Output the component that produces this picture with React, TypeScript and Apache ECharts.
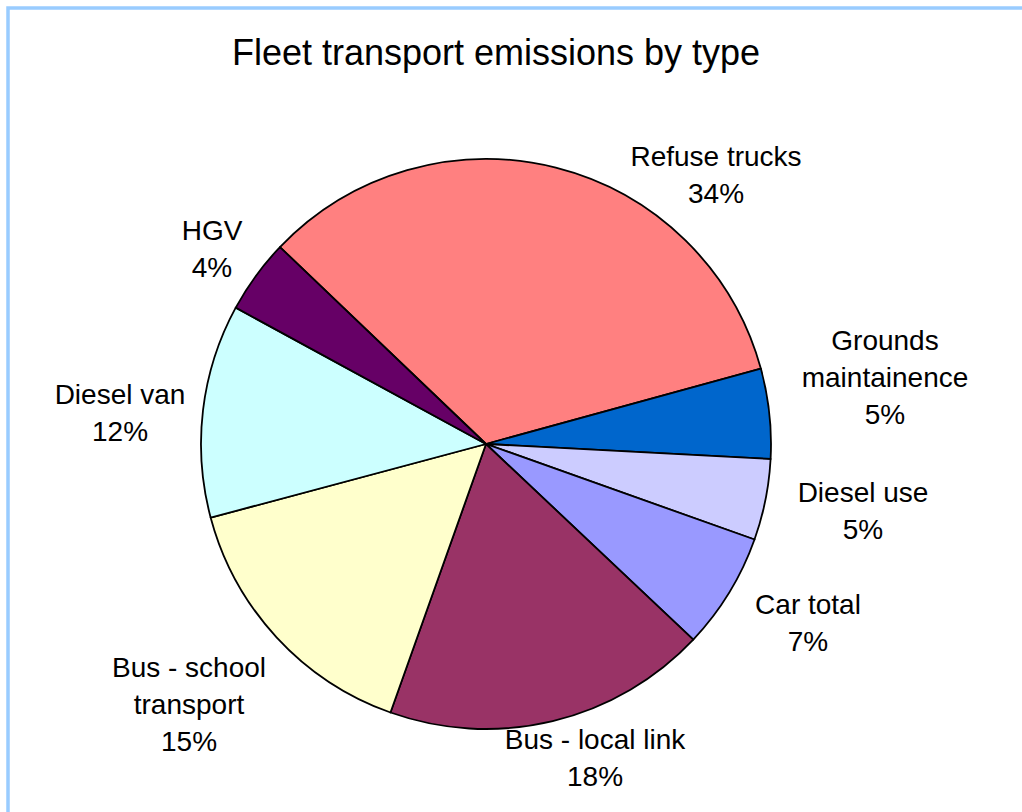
import React, { useEffect, useRef } from "react";
import * as echarts from "echarts";

const titleText = "Fleet transport emissions by type";
const categories = [
  "Refuse trucks",
  "Grounds\nmaintainence",
  "Diesel use",
  "Car total",
  "Bus - local link",
  "Bus - school\ntransport",
  "Diesel van",
  "HGV",
];
const values = [33.6, 5.1, 4.6, 6.6, 18.4, 15.4, 12.1, 4.2];
const colors = ["#FF8080", "#0066CC", "#CCCCFF", "#9999FF", "#993366", "#FFFFCC", "#CCFFFF", "#660066"];

// label block centres (layout, px)
const labelPos: [number, number][] = [
  [716, 175],
  [885, 377],
  [863, 511],
  [808, 623],
  [595, 758],
  [189, 704],
  [120, 413],
  [212, 249],
];

const FONT = "'Liberation Sans', Arial, Helvetica, sans-serif";

export default function App() {
  const ref = useRef<HTMLDivElement>(null);
  useEffect(() => {
    if (!ref.current) return;
    const chart = echarts.init(ref.current, undefined, { renderer: "svg" });
    chart.setOption({
      animation: false,
      backgroundColor: "#ffffff",
      title: {
        text: titleText,
        left: 496,
        top: 34,
        padding: 0,
        textAlign: "center",
        textStyle: { fontFamily: FONT, fontSize: 36, fontWeight: "normal", color: "#000" },
      },
      graphic: [
        {
          type: "rect",
          silent: true,
          shape: { x: 8, y: 8, width: 1100, height: 900 },
          style: { fill: "none", stroke: "#99CCFF", lineWidth: 3.5 },
        },
      ],
      series: [
        {
          type: "pie",
          center: [486, 444],
          radius: 285,
          startAngle: 136.3,
          clockwise: true,
          data: categories.map((name, i) => ({
            name,
            value: values[i],
            itemStyle: { color: colors[i] },
          })),
          itemStyle: { borderColor: "#000", borderWidth: 1.8 },
          label: {
            show: true,
            position: "outside",
            formatter: (p: any) => `${p.name}\n${Math.round(p.percent)}%`,
            color: "#000",
            fontFamily: FONT,
            fontSize: 28,
            lineHeight: 37,
            align: "center",
          },
          labelLine: { show: false },
          labelLayout: (params: any) => {
            const pos = labelPos[params.dataIndex];
            return { x: pos[0], y: pos[1], align: "center", verticalAlign: "middle" };
          },
          emphasis: { disabled: true },
        },
      ],
    });
    return () => chart.dispose();
  }, []);
  return (
    <div
      ref={ref}
      style={{ position: "fixed", left: 0, top: 0, width: 1022, height: 812, background: "#fff" }}
    />
  );
}
